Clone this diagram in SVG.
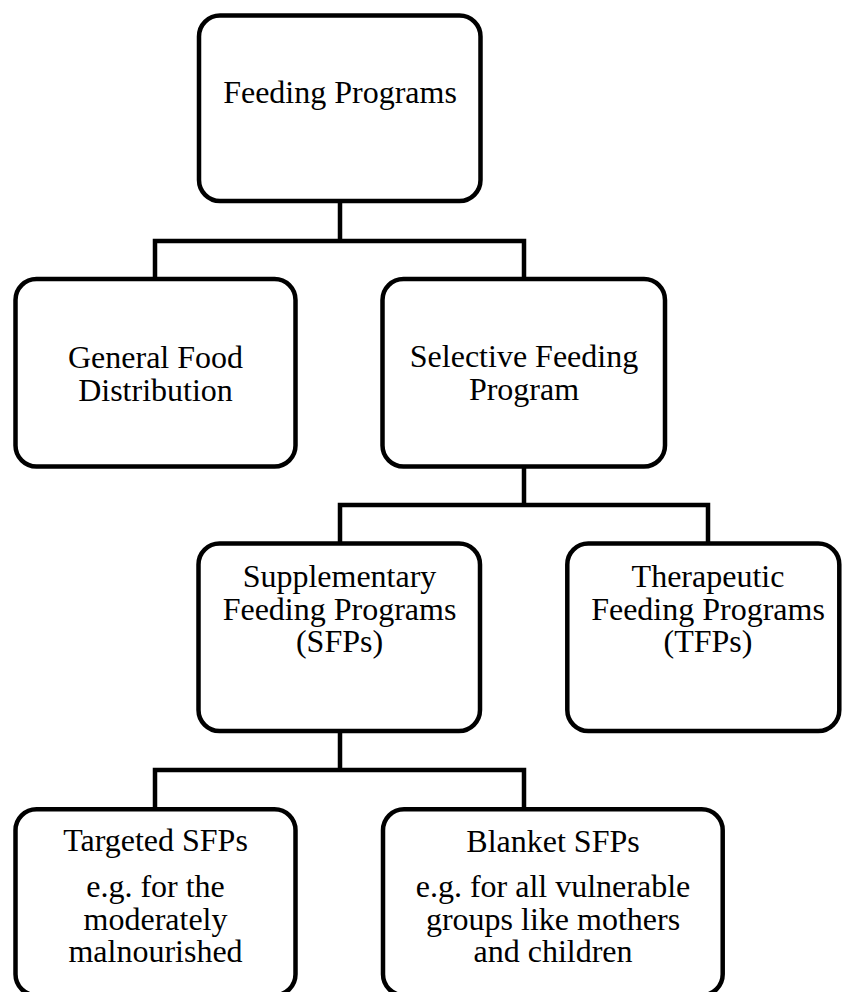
<svg xmlns="http://www.w3.org/2000/svg" width="842" height="992" viewBox="0 0 842 992">
<style>
.box{fill:#fff;stroke:#000;stroke-width:4.5}
.con{fill:none;stroke:#000;stroke-width:4.5;stroke-linejoin:miter}
.t{font-family:"Liberation Serif","Times New Roman",serif;font-size:32px;fill:#000;text-anchor:middle}
</style>
<rect width="842" height="992" fill="#fff"/>
<g id="connectors">
<path class="con" d="M340 201V241M155 279V241H524V279"/>
<path class="con" d="M524 467V505M340 543V505H708V543"/>
<path class="con" d="M340 731V770M155 809V770H524V809"/>
</g>
<g id="feeding-programs">
<rect class="box" x="199" y="15.5" width="281.5" height="185.5" rx="21"/>
<text class="t" x="340" y="103">Feeding Programs</text>
</g>
<g id="general-food-distribution">
<rect class="box" x="15.5" y="279" width="280" height="187.5" rx="21"/>
<text class="t" x="155.5" y="368">General Food</text>
<text class="t" x="155.5" y="401">Distribution</text>
</g>
<g id="selective-feeding-program">
<rect class="box" x="382.5" y="279" width="282.5" height="187.5" rx="21"/>
<text class="t" x="524" y="367">Selective Feeding</text>
<text class="t" x="524" y="400">Program</text>
</g>
<g id="sfp">
<rect class="box" x="198.5" y="543.5" width="281.5" height="187.5" rx="21"/>
<text class="t" x="339.5" y="587">Supplementary</text>
<text class="t" x="339.5" y="619.5">Feeding Programs</text>
<text class="t" x="339.5" y="652">(SFPs)</text>
</g>
<g id="tfp">
<rect class="box" x="567.3" y="543.5" width="272" height="187.5" rx="21"/>
<text class="t" x="708" y="587">Therapeutic</text>
<text class="t" x="708" y="619.5">Feeding Programs</text>
<text class="t" x="708" y="652">(TFPs)</text>
</g>
<g id="targeted-sfps">
<rect class="box" x="15.5" y="809.3" width="280" height="186" rx="21"/>
<text class="t" x="155.5" y="851">Targeted SFPs</text>
<text class="t" x="155.5" y="897">e.g. for the</text>
<text class="t" x="155.5" y="929.5">moderately</text>
<text class="t" x="155.5" y="962">malnourished</text>
</g>
<g id="blanket-sfps">
<rect class="box" x="383" y="809.3" width="339.7" height="186" rx="21"/>
<text class="t" x="553" y="852">Blanket SFPs</text>
<text class="t" x="553" y="897">e.g. for all vulnerable</text>
<text class="t" x="553" y="929.5">groups like mothers</text>
<text class="t" x="553" y="962">and children</text>
</g>
</svg>
